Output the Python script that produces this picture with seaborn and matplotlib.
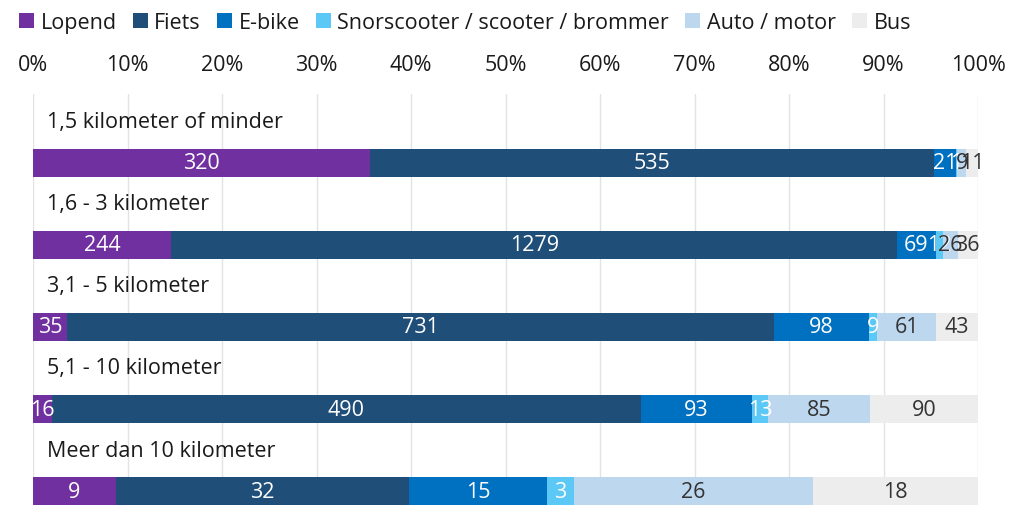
import numpy as np
import pandas as pd
import matplotlib.pyplot as plt
import seaborn as sns

# data
categories = ["1,5 kilometer of minder", "1,6 - 3 kilometer", "3,1 - 5 kilometer",
              "5,1 - 10 kilometer", "Meer dan 10 kilometer"]
modes = ["Lopend", "Fiets", "E-bike", "Snorscooter / scooter / brommer", "Auto / motor", "Bus"]
lopend = [320, 244, 35, 16, 9]
fiets = [535, 1279, 731, 490, 32]
ebike = [21, 69, 98, 93, 15]
snor = [1, 12, 9, 13, 3]
auto = [9, 26, 61, 85, 26]
bus = [11, 36, 43, 90, 18]

colors = ["#7030A0", "#1F4E79", "#0070C0", "#5BC8F5", "#BDD7EE", "#EDEDED"]
text_colors = ["white", "white", "white", "white", "#333333", "#333333"]

counts = pd.DataFrame(dict(zip(modes, [lopend, fiets, ebike, snor, auto, bus])), index=categories)
pct = counts.div(counts.sum(axis=1), axis=0) * 100
cum = pct.cumsum(axis=1)

sns.set_style("white")
plt.rcParams['font.family'] = ['Open Sans', 'DejaVu Sans']

fig = plt.figure(figsize=(10.09, 5.06), dpi=100)
ax = fig.add_axes([33 / 1009, 0, 945 / 1009, 411 / 506])

# stacked bars: draw cumulative totals from the last mode to the first
for i in range(len(modes) - 1, -1, -1):
    df = pd.DataFrame({"cat": categories, "val": cum[modes[i]].values})
    sns.barplot(data=df, x="val", y="cat", orient="h", color=colors[i],
                saturation=1, width=0.34, ax=ax, zorder=2, label=modes[i],
                edgecolor="none", linewidth=0)

# segment labels
for r, cat in enumerate(categories):
    left = 0
    for i, m in enumerate(modes):
        w = pct.loc[cat, m]
        ax.text(left + w / 2, r, str(counts.loc[cat, m]), ha="center", va="center",
                fontsize=15.5, color=text_colors[i], zorder=3)
        left += w
    ax.text(1.5, r - 0.5, cat, ha="left", va="center", fontsize=15.5, color="#1a1a1a")

ax.set_xlim(0, 100)
ax.set_ylim(4.17, -0.84)
ax.set_yticks([])
ax.set_ylabel("")
ax.set_xlabel("")
ax.xaxis.tick_top()
ax.set_xticks(np.arange(0, 101, 10))
ax.set_xticklabels([f"{t}%" for t in range(0, 101, 10)], fontsize=15.5, color="#1a1a1a")
ax.tick_params(axis="x", length=0, pad=14)
ax.grid(axis="x", color="#E3E3E3", linewidth=1, zorder=0)
for s in ax.spines.values():
    s.set_visible(False)

handles, labels = ax.get_legend_handles_labels()
order = [labels.index(m) for m in modes]
if ax.legend_:
    ax.legend_.remove()
fig.legend([handles[k] for k in order], modes, loc="upper left", bbox_to_anchor=(0.006, 1.0),
           ncol=6, frameon=False, fontsize=15.5, handlelength=0.7, handleheight=0.7,
           handletextpad=0.3, columnspacing=0.75, borderaxespad=0.2, labelcolor="#1a1a1a")

fig.savefig("out.png", dpi=100)
